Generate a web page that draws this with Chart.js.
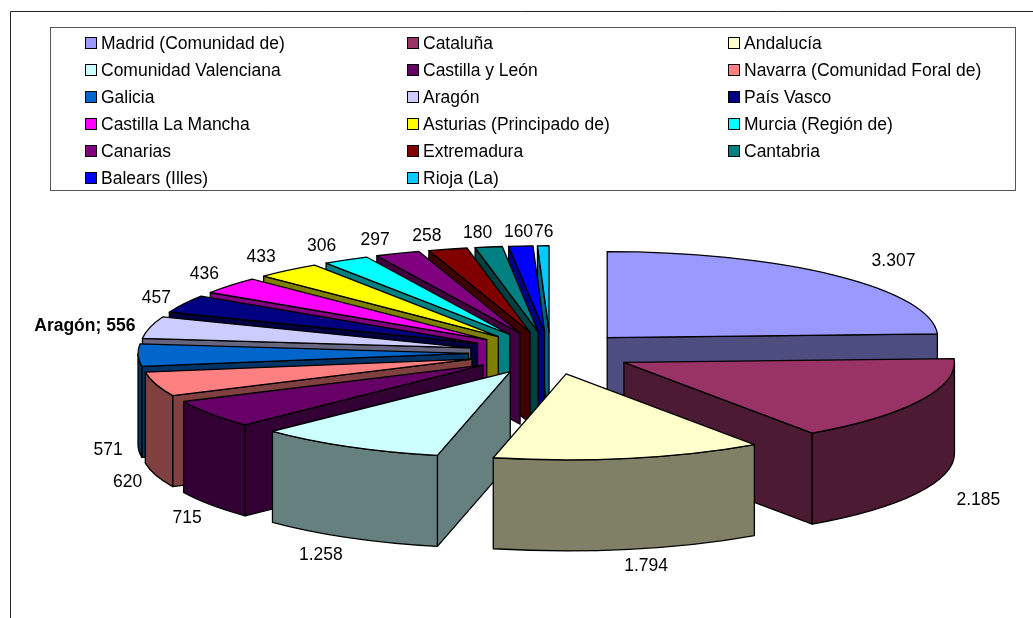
<!DOCTYPE html>
<html><head><meta charset="utf-8">
<style>html,body{margin:0;padding:0;background:#fff}canvas{display:block}</style>
<script src="https://cdn.jsdelivr.net/npm/chart.js@4"></script>
</head><body>
<div style="width:1033px;height:618px"><canvas id="c" width="1033" height="618"></canvas></div>
<script>
const regions = ["Madrid (Comunidad de)","Cataluña","Andalucía","Comunidad Valenciana","Castilla y León","Navarra (Comunidad Foral de)","Galicia","Aragón","País Vasco","Castilla La Mancha","Asturias (Principado de)","Murcia (Región de)","Canarias","Extremadura","Cantabria","Balears (Illes)","Rioja (La)"];
const values = [3307,2185,1794,1258,715,620,571,556,457,436,433,306,297,258,180,160,76];
const colors = ["#9999FF","#993366","#FFFFCC","#CCFFFF","#660066","#FF8080","#0066CC","#CCCCFF","#000080","#FF00FF","#FFFF00","#00FFFF","#800080","#800000","#008080","#0000FF","#00CCFF"];
const labelShiftX = [58,59,16,-30,-27,-32,-34,-69,-31,-29,-30,-27,-25,-23,-13,-4,-1];
const labelShiftY = [-15,9,18,18,14,7,4,-1,-6,-12,-14,-14,-14,-14,-14,-15,-14];

const FONT = '17.5px "Liberation Sans", Arial, sans-serif';
const BOLD = 'bold 17.5px "Liberation Sans", Arial, sans-serif';
const view = {cx:550.5, cy:353, R:330.5, ky:0.26, depth:91, explode:82};
const labelOrigin = {cx:552, cy:353, r:410};

function dark(hex){
  const n = parseInt(hex.slice(1),16);
  const h = v => Math.round(v/2).toString(16).padStart(2,'0');
  return '#'+h(n>>16&255)+h(n>>8&255)+h(n&255);
}
function fmt(v){ return String(v).replace(/\B(?=(\d{3})+$)/g,'.'); }

const pie3d = {
  id:'pie3d',
  beforeDatasetsDraw(chart){
    const ctx = chart.ctx, arcs = chart.getDatasetMeta(0).data;
    const {cx,cy,R,ky,depth,explode} = view;
    const Ry = R*ky;
    // frame + legend
    ctx.save();
    ctx.strokeStyle='#222'; ctx.lineWidth=1;
    ctx.beginPath(); ctx.moveTo(10.5,618); ctx.lineTo(10.5,11.5); ctx.lineTo(1033,11.5); ctx.stroke();
    ctx.strokeStyle='#555';
    ctx.strokeRect(50.5,27.5,965,163);
    ctx.font=FONT; ctx.textBaseline='middle'; ctx.textAlign='left';
    const colX=[85,407,728];
    regions.forEach((name,i)=>{
      const x=colX[i%3], y=43+Math.floor(i/3)*27;
      ctx.fillStyle=colors[i]; ctx.fillRect(x+.5,y-5.5,11,11);
      ctx.strokeStyle='#000'; ctx.lineWidth=1; ctx.strokeRect(x+.5,y-5.5,11,11);
      ctx.fillStyle='#000'; ctx.fillText(name,x+16,y+1);
    });
    ctx.restore();

    const order = arcs.map((a,i)=>i).sort((p,q)=>{
      const mp=(arcs[p].startAngle+arcs[p].endAngle)/2, mq=(arcs[q].startAngle+arcs[q].endAngle)/2;
      return Math.sin(mp)-Math.sin(mq);
    });
    ctx.lineJoin='round';
    order.forEach(i=>{
      const arc=arcs[i], s=arc.startAngle, e=arc.endAngle, m=(s+e)/2;
      const ax=cx+explode*Math.cos(m), ay=cy+explode*ky*Math.sin(m);
      const px=a=>ax+R*Math.cos(a), py=a=>ay+Ry*Math.sin(a);
      const wall=dark(colors[i]);
      ctx.lineWidth=1.3; ctx.strokeStyle='#000'; ctx.fillStyle=wall;
      const edge=a=>{
        ctx.beginPath(); ctx.moveTo(ax,ay); ctx.lineTo(px(a),py(a));
        ctx.lineTo(px(a),py(a)+depth); ctx.lineTo(ax,ay+depth); ctx.closePath();
        ctx.fill(); ctx.stroke();
      };
      if(Math.cos(s)<0) edge(s);
      if(Math.cos(e)>0) edge(e);
      const a0=Math.max(s,0), a1=Math.min(e,Math.PI);
      if(a1>a0){
        ctx.beginPath(); ctx.ellipse(ax,ay,R,Ry,0,a0,a1);
        ctx.lineTo(px(a1),py(a1)+depth);
        ctx.ellipse(ax,ay+depth,R,Ry,0,a1,a0,true);
        ctx.closePath(); ctx.fill(); ctx.stroke();
      }
      // top face: the library's own arc, squashed into the pie plane
      const r=arc.outerRadius, sx=R/r, sy=Ry/r;
      ctx.save();
      ctx.transform(sx,0,0,sy,ax-sx*arc.x,ay-sy*arc.y);
      arc.draw(ctx);
      ctx.restore();
      ctx.beginPath(); ctx.moveTo(ax,ay); ctx.ellipse(ax,ay,R,Ry,0,s,e); ctx.closePath();
      ctx.stroke();
    });
    // value labels
    ctx.save();
    ctx.fillStyle='#000'; ctx.textAlign='center'; ctx.textBaseline='middle';
    arcs.forEach((arc,i)=>{
      const m=(arc.startAngle+arc.endAngle)/2;
      const rr=labelOrigin.r;
      const x=labelOrigin.cx+rr*Math.cos(m)+labelShiftX[i];
      const y=labelOrigin.cy+rr*ky*Math.sin(m)+(Math.sin(m)>0?depth:0)+labelShiftY[i];
      const isAragon = regions[i]==='Aragón';
      ctx.font=isAragon?BOLD:FONT;
      ctx.fillText(isAragon?regions[i]+'; '+fmt(values[i]):fmt(values[i]),x,y);
    });
    ctx.restore();
    return false;
  }
};

new Chart(document.getElementById('c'),{
  type:'pie',
  data:{labels:regions,datasets:[{data:values,backgroundColor:colors,borderWidth:0}]},
  options:{
    responsive:false,animation:false,rotation:0,
    layout:{padding:0},
    plugins:{legend:{display:false},tooltip:{enabled:false}},
    events:[]
  },
  plugins:[pie3d]
});
</script>
</body></html>
